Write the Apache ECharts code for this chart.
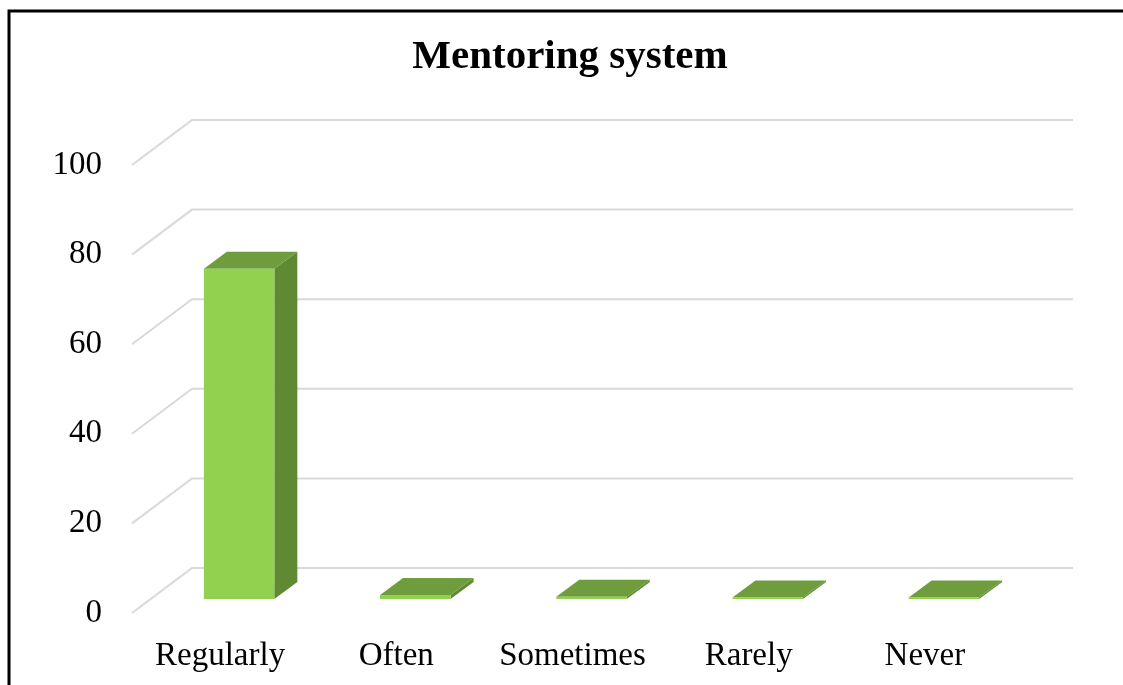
<!DOCTYPE html>
<html>
<head>
<meta charset="utf-8">
<script src="https://cdn.jsdelivr.net/npm/echarts@6/dist/echarts.min.js"></script>
<style>
  html, body { margin: 0; padding: 0; background: #fff; }
  #chart { width: 1123px; height: 685px; }
</style>
</head>
<body>
<div id="chart"></div>
<script>
const categories = ['Regularly', 'Often', 'Sometimes', 'Rarely', 'Never']
const values = [73.7, 0.9, 0.5, 0, 0]
const yTicks = [0, 20, 40, 60, 80, 100]

// oblique 3d offsets (front plane -> back wall, front plane -> bar faces)
const WALL = [60, -45]
const BAR_FRONT = [19, -14]
const BAR_BACK = [42, -31]

const chart = echarts.init(document.getElementById('chart'))

function wallItem(params, api) {
  const cs = params.coordSys
  const p = api.coord([0, api.value(1)])
  const y = p[1]
  return {
    type: 'polyline',
    shape: { points: [[cs.x, y], [cs.x + WALL[0], y + WALL[1]], [cs.x + cs.width + WALL[0], y + WALL[1]]] },
    style: { stroke: '#d9d9d9', lineWidth: 2, fill: null },
    silent: true
  }
}

function barItem(params, api) {
  const idx = api.value(0)
  const top = api.coord([idx, api.value(1)])
  const base = api.coord([idx, 0])
  const w = api.size([1, 0])[0] * 0.4
  let yTop = top[1]
  if (base[1] - yTop < 1.5) yTop = base[1] - 1.5
  const x0 = base[0] - w / 2, x1 = base[0] + w / 2
  const f = BAR_FRONT, b = BAR_BACK
  const front = [[x0 + f[0], yTop + f[1]], [x1 + f[0], yTop + f[1]], [x1 + f[0], base[1] + f[1]], [x0 + f[0], base[1] + f[1]]]
  const topFace = [[x0 + f[0], yTop + f[1]], [x0 + b[0], yTop + b[1]], [x1 + b[0], yTop + b[1]], [x1 + f[0], yTop + f[1]]]
  const side = [[x1 + f[0], yTop + f[1]], [x1 + b[0], yTop + b[1]], [x1 + b[0], base[1] + b[1]], [x1 + f[0], base[1] + f[1]]]
  return {
    type: 'group',
    children: [
      { type: 'polygon', shape: { points: side }, style: { fill: '#5f8a33' } },
      { type: 'polygon', shape: { points: topFace }, style: { fill: '#6f9c3c' } },
      { type: 'polygon', shape: { points: front }, style: { fill: '#92d050' } }
    ]
  }
}

chart.setOption({
  animation: false,
  title: {
    text: 'Mentoring system',
    left: 565, top: 32, textAlign: 'center',
    textStyle: { fontFamily: 'Liberation Serif', fontWeight: 'bold', fontSize: 41, color: '#000' }
  },
  grid: { left: 132, right: 110, top: 165, bottom: 72 },
  xAxis: {
    type: 'category', data: categories,
    axisLine: { show: false }, axisTick: { show: false },
    axisLabel: { color: '#000', fontFamily: 'Liberation Serif', fontSize: 33, margin: 27, interval: 0 }
  },
  yAxis: {
    type: 'value', min: 0, max: 100, interval: 20,
    axisLine: { show: false }, axisTick: { show: false }, splitLine: { show: false },
    axisLabel: { color: '#000', fontFamily: 'Liberation Serif', fontSize: 33, margin: 30 }
  },
  graphic: [{
    type: 'rect', shape: { x: 9, y: 11, width: 1300, height: 900 },
    style: { fill: null, stroke: '#000', lineWidth: 3 }, silent: true
  }],
  series: [
    { type: 'custom', name: 'wall', renderItem: wallItem, data: yTicks.map(t => [0, t]), silent: true },
    { type: 'custom', name: 'bars', renderItem: barItem, data: values.map((v, i) => [i, v]) }
  ]
})
</script>
</body>
</html>
